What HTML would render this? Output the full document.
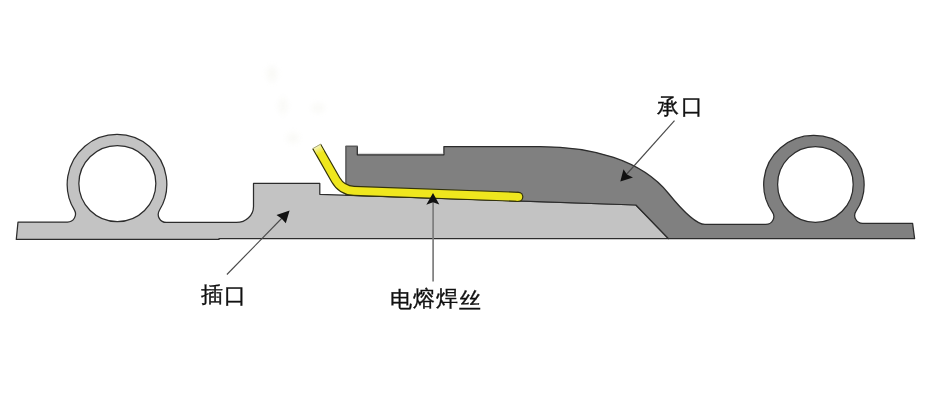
<!DOCTYPE html>
<html><head><meta charset="utf-8"><style>
html,body{margin:0;padding:0;background:#fff;width:930px;height:405px;overflow:hidden}
.wrap{position:relative;width:930px;height:405px}
svg{position:absolute;left:0;top:0}
.t{position:absolute;font-family:"Liberation Sans",sans-serif;font-size:22px;color:#111;white-space:nowrap;line-height:1;-webkit-text-stroke:0.35px #111;will-change:transform}
</style></head><body><div class="wrap">
<svg width="930" height="405" viewBox="0 0 930 405">
<defs><filter id="bl" x="-50%" y="-50%" width="200%" height="200%"><feGaussianBlur stdDeviation="3"/></filter></defs>
<g filter="url(#bl)" fill="#ebebe0" opacity="0.3">
<ellipse cx="272" cy="74" rx="5" ry="8"/>
<ellipse cx="283" cy="106" rx="4" ry="9"/>
<ellipse cx="318" cy="108" rx="7" ry="4"/>
<ellipse cx="293" cy="138" rx="6" ry="5"/>
</g>
<path d="M16.3,239.4 L18,222.0 H67.47 A8,8.00 0 0 0 74.33,209.88 A49.8,49.8 0 1 1 159.44,210.26 A8,8.00 0 0 0 166.25,222.45 H236.50 A17,16.05 0 0 0 253.5,206.4 V183.4 H319.8 V194.3 L635.9,205.0 L668.5,238.6 L219,238.6 L219,239.4 L16.3,239.4 Z" fill="#c3c3c3" stroke="#2c2c2c" stroke-width="1.25" stroke-linejoin="round"/>
<ellipse cx="117.35" cy="183.6" rx="38.5" ry="38.0" fill="#ffffff" stroke="#2c2c2c" stroke-width="1.25"/>
<path d="M346,146.4 H357.3 V154.8 H443.9 V146.6 H540.1 C592.07,146.6 641.39,160.02 668.32,193.26 C684.37,213.08 697.40,224.4 705.01,224.4 H765.82 A8,7.82 0 0 0 772.43,212.17 A50.2,49.1 0 1 1 856.02,211.22 A8,7.82 0 0 0 862.73,223.30 H912.60 L914.6,238.7 H668.5 L635.9,205.0 L346,195.19 Z" fill="#808080" stroke="#2c2c2c" stroke-width="1.25" stroke-linejoin="round"/>
<ellipse cx="815.4" cy="184.4" rx="37.8" ry="37.9" fill="#ffffff" stroke="#2c2c2c" stroke-width="1.25"/>
<line x1="346" y1="147" x2="346" y2="186" stroke="#727272" stroke-width="1.4"/>
<line x1="345.5" y1="146.4" x2="357.8" y2="146.4" stroke="#5c5c5c" stroke-width="1.3"/>
<line x1="358.2" y1="153.4" x2="443.2" y2="153.4" stroke="#d4d4d4" stroke-width="1"/>
<path d="M316.7,146.4 L335.67,179.77 A22,22 0 0 0 354.00,190.88 L518.30,196.80" fill="none" stroke="#33330a" stroke-width="10.2" stroke-linecap="butt"/>
<circle cx="518.30" cy="196.80" r="5.1" fill="#33330a"/>
<path d="M316.7,146.4 L335.67,179.77 A22,22 0 0 0 354.00,190.88 L518.30,196.80" fill="none" stroke="#efe71e" stroke-width="7.8" stroke-linecap="butt"/>
<circle cx="518.30" cy="196.80" r="3.9" fill="#efe71e"/>
<linearGradient id="capg" gradientUnits="userSpaceOnUse" x1="316.7" y1="146.4" x2="320.65" y2="153.35"><stop offset="0" stop-color="#f6f4c4"/><stop offset="1" stop-color="#efe71e"/></linearGradient>
<polygon points="320.09,144.47 313.31,148.33 317.26,155.28 324.04,151.43" fill="url(#capg)"/>
<line x1="320.96" y1="143.98" x2="312.44" y2="148.82" stroke="#a8a878" stroke-width="1"/>
<g fill="none">
<line x1="226.9" y1="274.5" x2="285" y2="215" stroke="#4a4a4a" stroke-width="1.15"/>
<line x1="433.1" y1="281.6" x2="433.1" y2="202" stroke="#7c7c7c" stroke-width="1.7"/>
<line x1="674.5" y1="120.6" x2="625" y2="176" stroke="#4a4a4a" stroke-width="1.15"/>
</g>
<g fill="#111">
<path d="M289.6,210.4 L276.5,215 L281.5,218.5 L285.8,223.3 Z"/>
<path d="M433,193.0 L426.3,204.7 L433,202.2 L439.3,204.5 Z"/>
<path d="M620.3,181.4 L623.5,169.3 L627,174.5 L633,177.5 Z"/>
</g>
</svg>
<div class="t" style="left:200.7px;top:284.3px">插</div>
<div class="t" style="left:224.1px;top:284.8px">口</div>
<div class="t" style="left:389.5px;top:288.5px">电</div>
<div class="t" style="left:413.2px;top:288.2px">熔</div>
<div class="t" style="left:435.8px;top:288.2px">焊</div>
<div class="t" style="left:459.2px;top:289.5px">丝</div>
<div class="t" style="left:657.2px;top:96.0px">承</div>
<div class="t" style="left:681.3px;top:95.8px">口</div>
</div></body></html>
